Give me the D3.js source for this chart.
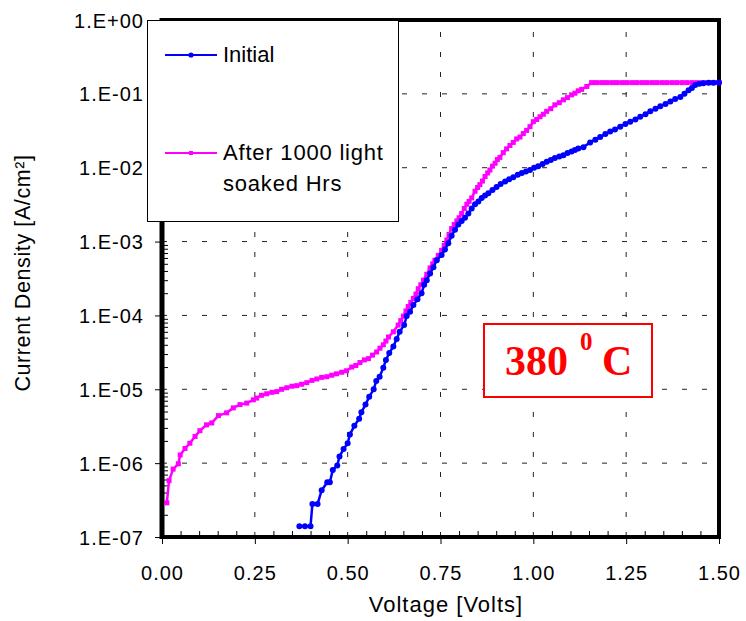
<!DOCTYPE html>
<html>
<head>
<meta charset="utf-8">
<script src="https://cdn.jsdelivr.net/npm/d3@7/dist/d3.min.js"></script>
<style>
	body { margin:0; background:#fff; }
	text { font-family: "Liberation Sans", Arial, sans-serif; fill:#000; }
</style>
</head>
<body>
<div id="container"></div>
<script>

// INITIAL CURVE (Volts, A/cm2)
var initialV = [0.370,0.385,0.400,0.405,0.419,0.430,0.445,0.452,0.460,0.472,0.478,0.489,0.500,0.506,0.518,0.531,0.537,0.548,0.558,0.570,
	0.577,0.586,0.596,0.603,0.612,0.623,0.632,0.640,0.652,0.659,0.668,0.677,0.688,0.699,0.706,0.713,0.722,0.731,0.740,0.753,
	0.762,0.771,0.780,0.789,0.798,0.807,0.816,0.825,0.834,0.843,0.852,0.861,0.870,0.879,0.890,0.901,0.912,0.924,0.935,0.946,
	0.958,0.969,0.980,0.991,1.002,1.013,1.025,1.036,1.047,1.058,1.070,1.081,1.092,1.103,1.112,1.121,1.135,1.153,1.167,1.180,
	1.194,1.207,1.220,1.234,1.248,1.261,1.275,1.288,1.302,1.315,1.329,1.342,1.356,1.369,1.382,1.396,1.407,1.418,1.427,1.436,
	1.447,1.458,1.472,1.485,1.500];
var initialJ = [1.4e-7,1.4e-7,1.4e-7,2.8e-7,2.8e-7,4.3e-7,5.5e-7,5.5e-7,8.1e-7,9.3e-7,1.23e-6,1.55e-6,1.86e-6,2.45e-6,3.2e-6,4.0e-6,4.9e-6,6.2e-6,7.9e-6,1.0e-5,
	1.29e-5,1.48e-5,1.95e-5,2.5e-5,3.1e-5,3.8e-5,4.8e-5,6.0e-5,7.4e-5,9.8e-5,1.12e-4,1.38e-4,1.66e-4,2.0e-4,2.6e-4,3.0e-4,3.7e-4,4.5e-4,5.6e-4,6.6e-4,
	7.8e-4,9.5e-4,1.2e-3,1.45e-3,1.7e-3,1.9e-3,2.1e-3,2.4e-3,2.8e-3,3.2e-3,3.5e-3,3.9e-3,4.2e-3,4.5e-3,5.0e-3,5.5e-3,6.0e-3,6.5e-3,7.0e-3,7.4e-3,
	8.0e-3,8.5e-3,8.9e-3,9.3e-3,1.0e-2,1.05e-2,1.12e-2,1.2e-2,1.27e-2,1.35e-2,1.42e-2,1.48e-2,1.58e-2,1.66e-2,1.74e-2,1.82e-2,1.9e-2,2.2e-2,2.4e-2,2.6e-2,
	2.85e-2,3.1e-2,3.3e-2,3.6e-2,3.9e-2,4.2e-2,4.5e-2,4.9e-2,5.3e-2,5.8e-2,6.3e-2,6.8e-2,7.3e-2,7.9e-2,8.5e-2,9.1e-2,1.0e-1,1.12e-1,1.2e-1,1.32e-1,
	1.37e-1,1.39e-1,1.41e-1,1.41e-1,1.42e-1];

// AFTER 1000 LIGHT SOAKED HRS (Volts, A/cm2)
var soakedV = [0.013,0.019,0.030,0.044,0.049,0.062,0.075,0.089,0.102,0.120,0.134,0.152,0.174,0.192,0.210,0.228,0.246,0.255,0.268,0.282,
	0.296,0.309,0.322,0.336,0.350,0.363,0.376,0.390,0.404,0.417,0.430,0.444,0.457,0.470,0.484,0.497,0.511,0.522,0.533,0.545,
	0.556,0.567,0.578,0.587,0.596,0.603,0.610,0.623,0.636,0.643,0.650,0.657,0.663,0.670,0.677,0.684,0.690,0.697,0.704,0.713,
	0.722,0.729,0.735,0.744,0.753,0.760,0.767,0.773,0.780,0.787,0.794,0.800,0.807,0.814,0.821,0.827,0.834,0.843,0.850,0.856,
	0.863,0.870,0.877,0.883,0.890,0.897,0.903,0.910,0.919,0.928,0.937,0.946,0.955,0.964,0.973,0.982,0.991,1.000,1.009,1.018,
	1.027,1.036,1.047,1.058,1.070,1.081,1.092,1.103,1.112,1.121,1.130,1.144,1.157,1.170,1.184,1.197,1.211,1.224,1.238,1.251,
	1.265,1.278,1.292,1.305,1.319,1.332,1.346,1.359,1.373,1.386,1.400,1.413,1.427,1.440,1.454,1.467,1.481,1.494,1.500];
var soakedJ = [2.9e-7,5.8e-7,8.3e-7,9.8e-7,1.29e-6,1.58e-6,1.86e-6,2.3e-6,2.75e-6,3.3e-6,3.5e-6,4.4e-6,4.8e-6,5.6e-6,6.2e-6,6.5e-6,7.2e-6,7.6e-6,8.3e-6,8.7e-6,
	9.1e-6,9.3e-6,1.0e-5,1.05e-5,1.1e-5,1.12e-5,1.17e-5,1.23e-5,1.32e-5,1.38e-5,1.45e-5,1.48e-5,1.55e-5,1.62e-5,1.7e-5,1.78e-5,2.0e-5,2.1e-5,2.3e-5,2.5e-5,
	2.6e-5,2.9e-5,3.2e-5,3.6e-5,4.0e-5,4.5e-5,5.1e-5,6.0e-5,7.4e-5,8.5e-5,9.8e-5,1.15e-4,1.32e-4,1.5e-4,1.7e-4,1.95e-4,2.3e-4,2.6e-4,3.0e-4,3.6e-4,
	4.4e-4,5.0e-4,5.6e-4,6.5e-4,7.6e-4,8.9e-4,1.05e-3,1.25e-3,1.5e-3,1.7e-3,1.9e-3,2.1e-3,2.4e-3,2.8e-3,3.2e-3,3.5e-3,3.9e-3,4.8e-3,5.4e-3,5.9e-3,
	6.6e-3,7.6e-3,8.5e-3,9.3e-3,1.05e-2,1.15e-2,1.29e-2,1.38e-2,1.6e-2,1.8e-2,2.0e-2,2.2e-2,2.45e-2,2.6e-2,2.9e-2,3.2e-2,3.6e-2,4.2e-2,4.5e-2,4.9e-2,
	5.3e-2,5.8e-2,6.3e-2,7.1e-2,7.6e-2,8.3e-2,8.9e-2,9.7e-2,1.02e-1,1.1e-1,1.15e-1,1.26e-1,1.42e-1,1.42e-1,1.42e-1,1.42e-1,1.42e-1,1.42e-1,1.42e-1,1.42e-1,
	1.42e-1,1.42e-1,1.42e-1,1.42e-1,1.42e-1,1.42e-1,1.42e-1,1.42e-1,1.42e-1,1.42e-1,1.42e-1,1.42e-1,1.42e-1,1.42e-1,1.42e-1,1.42e-1,1.42e-1,1.42e-1,1.42e-1];

// TICKS
var xTicks = [0, 0.25, 0.5, 0.75, 1.0, 1.25, 1.5];
var xMinor = [0.05,0.10,0.15,0.20,0.30,0.35,0.40,0.45,0.55,0.60,0.65,0.70,0.80,0.85,0.90,0.95,1.05,1.10,1.15,1.20,1.30,1.35,1.40,1.45];
var yTicks = [1e-7, 1e-6, 1e-5, 1e-4, 1e-3, 1e-2, 1e-1, 1];
var yTickLabels = ["1.E-07","1.E-06","1.E-05","1.E-04","1.E-03","1.E-02","1.E-01","1.E+00"];

var seriesNames = ["Initial", "After 1000 light", "soaked Hrs"];


function render() {
	var width = 746, height = 621;
	var left = 162, right = 719, top = 20, bottom = 537;

	var svg = d3.select("#container")
		.append('svg')
		.attr("width", width)
		.attr("height", height);

	var x = d3.scaleLinear().domain([0, 1.5]).range([left, right]);
	var y = d3.scaleLog().domain([1e-7, 1]).range([bottom, top]);

	//GRID
	svg.append('g')
		.selectAll('line')
		.data(yTicks.slice(1, -1))
		.enter().append('line')
		.attr('x1', left).attr('x2', right)
		.attr('y1', d => y(d)).attr('y2', d => y(d))
		.attr('stroke', '#222').attr('stroke-width', 1)
		.attr('stroke-dasharray', '5,15');

	svg.append('g')
		.selectAll('line')
		.data(xTicks.slice(1, -1))
		.enter().append('line')
		.attr('x1', d => x(d)).attr('x2', d => x(d))
		.attr('y1', bottom).attr('y2', top)
		.attr('stroke', '#222').attr('stroke-width', 1)
		.attr('stroke-dasharray', '5,15');

	//AXES
	var xAxis = svg.append('g')
		.attr('transform', 'translate(0,' + bottom + ')')
		.call(d3.axisBottom(x).tickValues(xTicks).tickFormat(d3.format('.2f')).tickSize(7).tickPadding(22));
	var xMinorAxis = svg.append('g')
		.attr('transform', 'translate(0,' + bottom + ')')
		.call(d3.axisBottom(x).tickValues(xMinor).tickFormat('').tickSize(-6));

	var yAxis = svg.append('g')
		.attr('transform', 'translate(' + left + ',0)')
		.call(d3.axisLeft(y).tickValues(yTicks).tickFormat((d, i) => yTickLabels[i]).tickSize(7).tickPadding(11));
	var yMinorAxis = svg.append('g')
		.attr('transform', 'translate(' + left + ',0)')
		.call(d3.axisLeft(y).tickValues(y.ticks().filter(d => yTicks.indexOf(d) < 0)).tickFormat('').tickSize(-6));

	[xAxis, xMinorAxis, yAxis, yMinorAxis].forEach(a => {
		a.select('.domain').remove();
		a.selectAll('line').attr('stroke', '#000').attr('stroke-width', 1);
		a.selectAll('text').style('font-size', '20px').style('letter-spacing', '1px')
			.attr('fill', '#000').attr('font-family', '"Liberation Sans", Arial, sans-serif');
	});
	yAxis.selectAll('text').attr('dy', '0.35em');

	//FRAME
	svg.append('rect')
		.attr('x', left).attr('y', top)
		.attr('width', right - left).attr('height', bottom - top)
		.attr('fill', 'none').attr('stroke', '#000').attr('stroke-width', 4);
	svg.append('line')
		.attr('x1', left).attr('x2', left).attr('y1', top - 2).attr('y2', bottom + 2)
		.attr('stroke', '#000').attr('stroke-width', 5);

	//SERIES
	var line = d3.line().x(d => x(d[0])).y(d => y(d[1]));
	var initialData = initialV.map((v, i) => [v, initialJ[i]]);
	var soakedData = soakedV.map((v, i) => [v, soakedJ[i]]);

	svg.append('path').datum(soakedData).attr('d', line)
		.attr('fill', 'none').attr('stroke', '#ff00ff').attr('stroke-width', 2.5);
	svg.append('g').selectAll('rect').data(soakedData).enter().append('rect')
		.attr('x', d => x(d[0]) - 2.5).attr('y', d => y(d[1]) - 2.5)
		.attr('width', 5).attr('height', 5).attr('fill', '#ff00ff');

	svg.append('path').datum(initialData).attr('d', line)
		.attr('fill', 'none').attr('stroke', '#0000ff').attr('stroke-width', 2.5);
	svg.append('g').selectAll('circle').data(initialData).enter().append('circle')
		.attr('cx', d => x(d[0])).attr('cy', d => y(d[1]))
		.attr('r', 3).attr('fill', '#0000ff');

	//LEGEND
	var lg = svg.append('g');
	lg.append('rect')
		.attr('x', 147.5).attr('y', 20.5).attr('width', 251).attr('height', 201)
		.attr('fill', '#fff').attr('stroke', '#000').attr('stroke-width', 1);
	lg.append('line').attr('x1', 165).attr('x2', 217).attr('y1', 55).attr('y2', 55)
		.attr('stroke', '#0000ff').attr('stroke-width', 2);
	lg.append('circle').attr('cx', 191).attr('cy', 55).attr('r', 2.6).attr('fill', '#0000ff');
	lg.append('line').attr('x1', 165).attr('x2', 217).attr('y1', 153).attr('y2', 153)
		.attr('stroke', '#ff00ff').attr('stroke-width', 2);
	lg.append('rect').attr('x', 189).attr('y', 151).attr('width', 4).attr('height', 4).attr('fill', '#ff00ff');
	lg.selectAll('text.leg')
		.data(seriesNames)
		.enter().append('text')
		.attr('class', 'leg')
		.attr('x', 223)
		.attr('y', (d, i) => [62, 160, 191][i])
		.style('font-size', '22px')
		.style('letter-spacing', (d, i) => i == 0 ? '0px' : '0.8px')
		.text(d => d);

	//ANNOTATION
	svg.append('rect')
		.attr('x', 484).attr('y', 324).attr('width', 168).attr('height', 73)
		.attr('fill', '#fff').attr('stroke', '#ff0000').attr('stroke-width', 2);
	var ann = svg.append('text')
		.attr('x', 505).attr('y', 375)
		.style('font-family', '"Liberation Serif", "Times New Roman", serif')
		.style('font-weight', 'bold')
		.style('font-size', '42px')
		.style('fill', '#ff0000');
	ann.append('tspan').text('380');
	ann.append('tspan').attr('x', 580).attr('y', 350).style('font-size', '25px').text('0');
	ann.append('tspan').attr('x', 602).attr('y', 375).text('C');

	//AXIS TITLES
	svg.append('text')
		.attr('x', 446).attr('y', 612)
		.attr('text-anchor', 'middle')
		.style('font-size', '22px').style('letter-spacing', '1px')
		.text('Voltage [Volts]');
	svg.append('text')
		.attr('transform', 'translate(30,273) rotate(-90)')
		.attr('text-anchor', 'middle')
		.style('font-size', '21.5px').style('letter-spacing', '0.6px')
		.text('Current Density [A/cm²]');
}

render();
</script>
</body>
</html>
